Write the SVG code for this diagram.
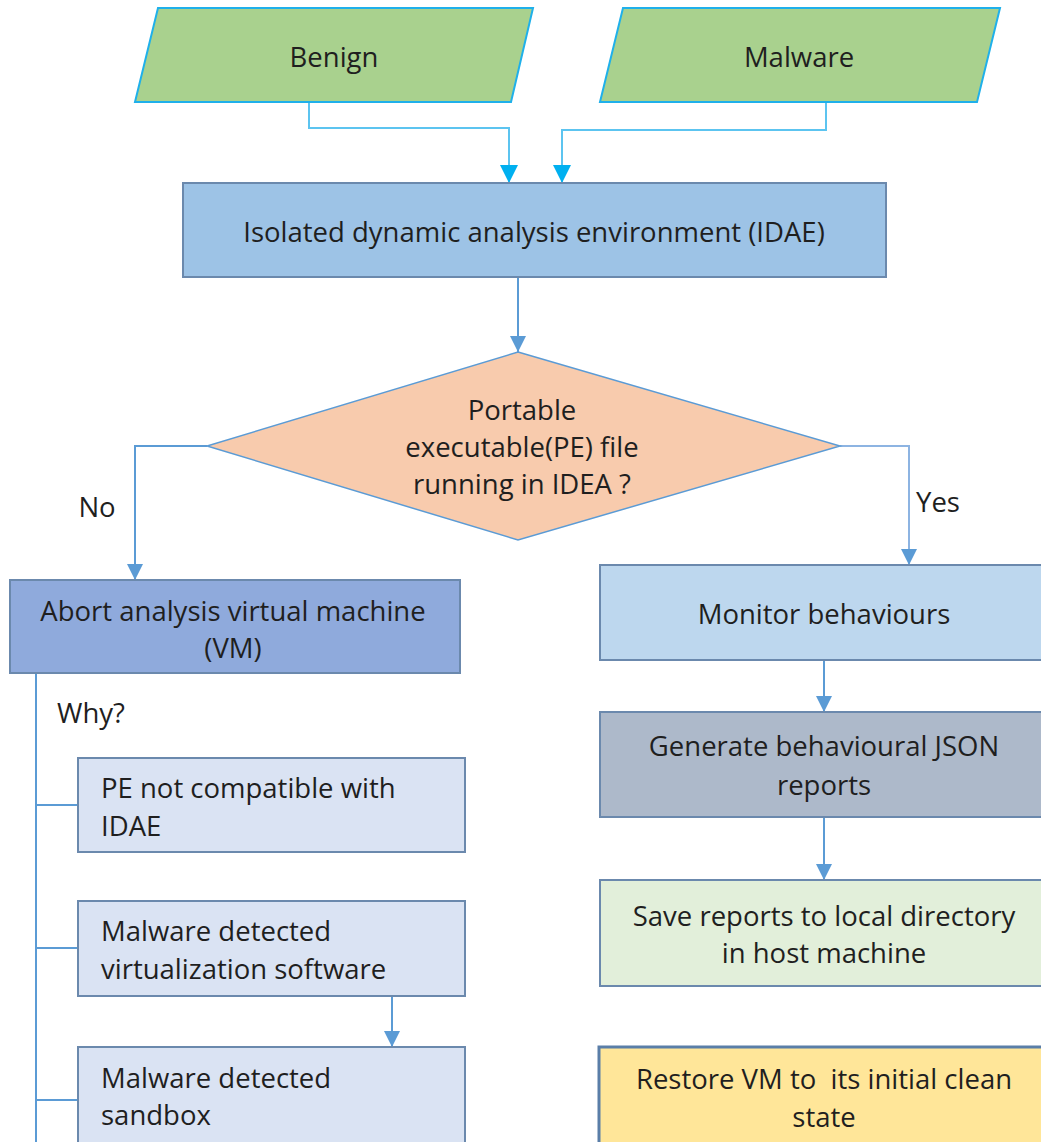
<svg xmlns="http://www.w3.org/2000/svg" width="1041" height="1142" viewBox="0 0 1041 1142">
<defs>
<style>
text{font-family:"Open Sans","Noto Sans","Liberation Sans",sans-serif;font-size:27.5px;fill:#1f1f1f}
.c{text-anchor:middle}
.box{stroke:#6b89ad;stroke-width:2}
.para{fill:#a9d18e;stroke:#1fb0ea;stroke-width:2}
.ln{fill:none;stroke:#5b9bd5;stroke-width:2}
.lnc{fill:none;stroke:#5cc4f0;stroke-width:2}
</style>
<marker id="ah" viewBox="0 0 10 10" refX="10" refY="5" markerWidth="17" markerHeight="16" markerUnits="userSpaceOnUse" orient="auto"><path d="M0,0 L10,5 L0,10 z" fill="#5b9bd5"/></marker>
<marker id="ahc" viewBox="0 0 10 10" refX="10" refY="5" markerWidth="18" markerHeight="18" markerUnits="userSpaceOnUse" orient="auto"><path d="M0,0 L10,5 L0,10 z" fill="#00b0f0"/></marker>
</defs>
<rect width="1041" height="1142" fill="#fff"/>
<g id="connectors">
<path class="lnc" d="M309,102 V128 H509 V183" marker-end="url(#ahc)"/>
<path class="lnc" d="M826,102 V130 H562 V183" marker-end="url(#ahc)"/>
<path class="ln" d="M518,277 V352" marker-end="url(#ah)"/>
<path class="ln" d="M207,446 H135 V580" marker-end="url(#ah)"/>
<path class="ln" d="M840,446 H909 V565" style="stroke:#8db4e2" marker-end="url(#ah)"/>
<path class="ln" d="M824,660 V712" marker-end="url(#ah)"/>
<path class="ln" d="M824,817 V880" marker-end="url(#ah)"/>
<path class="ln" d="M36,673 V1142"/>
<path class="ln" d="M36,805 H78 M36,948 H78 M36,1100 H78"/>
<path class="ln" d="M392,996 V1047" marker-end="url(#ah)"/>
<text x="97" y="517" class="c">No</text>
<text x="938" y="512" class="c">Yes</text>
<text x="57" y="723">Why?</text>
</g>
<g id="benign">
<polygon class="para" points="158,8 533,8 511,102 135,102"/>
<text x="334" y="67" class="c">Benign</text>
</g>
<g id="malware">
<polygon class="para" points="623,8 1000,8 977,102 600,102"/>
<text x="799" y="67" class="c">Malware</text>
</g>
<g id="idae">
<rect class="box" x="183" y="183" width="703" height="94" fill="#9dc3e6"/>
<text x="534" y="242" class="c">Isolated dynamic analysis environment (IDAE)</text>
</g>
<g id="decision">
<polygon points="518,352 840,446 518,540 207,446" fill="#f8cbad" stroke="#5b9bd5" stroke-width="1.5"/>
<text x="522" y="420" class="c">Portable</text>
<text x="522" y="457" class="c">executable(PE) file</text>
<text x="522" y="494" class="c">running in IDEA ?</text>
</g>
<g id="abort">
<rect class="box" x="10" y="580" width="450" height="93" fill="#8faadc"/>
<text x="233" y="621" class="c">Abort analysis virtual machine</text>
<text x="233" y="658" class="c">(VM)</text>
</g>
<g id="pe-incompatible">
<rect class="box" x="78" y="758" width="387" height="94" fill="#dae3f3"/>
<text x="101" y="798">PE not compatible with</text>
<text x="101" y="836">IDAE</text>
</g>
<g id="detected-virt">
<rect class="box" x="78" y="901" width="387" height="95" fill="#dae3f3"/>
<text x="101" y="941">Malware detected</text>
<text x="101" y="979">virtualization software</text>
</g>
<g id="detected-sandbox">
<rect class="box" x="78" y="1047" width="387" height="100" fill="#dae3f3"/>
<text x="101" y="1088">Malware detected</text>
<text x="101" y="1125">sandbox</text>
</g>
<g id="monitor">
<rect class="box" x="600" y="565" width="450" height="95" fill="#bdd7ee"/>
<text x="824" y="624" class="c">Monitor behaviours</text>
</g>
<g id="generate">
<rect class="box" x="600" y="712" width="450" height="105" fill="#adb9ca"/>
<text x="824" y="756" class="c">Generate behavioural JSON</text>
<text x="824" y="795" class="c">reports</text>
</g>
<g id="save">
<rect class="box" x="600" y="880" width="450" height="106" fill="#e2efda"/>
<text x="824" y="926" class="c">Save reports to local directory</text>
<text x="824" y="963" class="c">in host machine</text>
</g>
<g id="restore">
<rect x="599" y="1047" width="450" height="100" fill="#ffe699" stroke="#5a7ea8" stroke-width="3"/>
<text x="824" y="1089" class="c">Restore VM to&#160; its initial clean</text>
<text x="824" y="1127" class="c">state</text>
</g>
</svg>
